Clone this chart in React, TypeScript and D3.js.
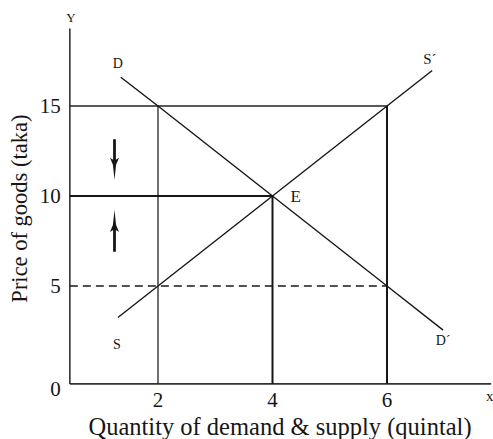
import React from "react";
import * as d3 from "d3";

const W = 493;
const H = 439;

// Data (quantity in quintal, price in taka)
const qTicks = [2, 4, 6];
const pTicks = [5, 10, 15];
const demandQ = [1.35, 2, 4, 6, 6.98];
const demandP = [16.6, 15, 10, 5, 2.55];
const supplyQ = [1.3, 2, 4, 6, 6.79];
const supplyP = [3.25, 5, 10, 15, 16.97];
const eqQ = 4;
const eqP = 10;
const highP = 15;
const lowP = 5;
const axisMinQ = 0.46;
const axisMaxQ = 7.82;
const axisMinP = -0.44;
const axisMaxP = 19.3;
// price-pressure arrows: [from, to] in taka
const arrowDown = [13.15, 10.9];
const arrowUp = [6.9, 9.22];

const FONT = "'Liberation Serif', 'Times New Roman', serif";
const INK = "#161616";

function arrowPath(xp: number, yFrom: number, yTo: number) {
  const dir = yTo > yFrom ? 1 : -1;
  const headLen = 20;
  const hw = 4.5;
  const sw = 1.4;
  const neck = yTo - dir * headLen;
  const barb = yTo - dir * (headLen - 5);
  return `M${xp - sw},${yFrom} L${xp + sw},${yFrom} L${xp + sw},${neck} L${xp + hw},${neck - dir * 2} L${xp + 1.6},${barb} L${xp},${yTo} L${xp - 1.6},${barb} L${xp - hw},${neck - dir * 2} L${xp - sw},${neck} Z`;
}

export default function App() {
  const x = d3.scaleLinear().domain([0, 8]).range([43.5, 43.5 + 8 * 57.25]);
  const y = d3.scaleLinear().domain([0, 20]).range([376, 16]);
  const line = d3
    .line<[number, number]>()
    .x((d) => x(d[0]))
    .y((d) => y(d[1]));

  const demand = demandQ.map((q, i) => [q, demandP[i]] as [number, number]);
  const supply = supplyQ.map((q, i) => [q, supplyP[i]] as [number, number]);

  const x0 = x(axisMinQ);
  const y0 = y(axisMinP);
  const arrowX = x(1.24);

  return (
    <svg
      width={W}
      height={H}
      style={{ position: "absolute", left: 0, top: 0, background: "#fff" }}
      fontFamily={FONT}
    >
      {/* axes */}
      <line x1={x0} x2={x0} y1={y(axisMaxP)} y2={y0} stroke="#333" strokeWidth={1.6} />
      <line x1={x0} x2={x(axisMaxQ)} y1={y0} y2={y0} stroke="#333" strokeWidth={1.6} />

      {/* guide lines */}
      <line x1={x0} x2={x(6)} y1={y(highP)} y2={y(highP)} stroke="#222" strokeWidth={1.3} />
      <line x1={x(2)} x2={x(2)} y1={y(highP)} y2={y0} stroke="#222" strokeWidth={1.3} />
      <line x1={x(6)} x2={x(6)} y1={y(highP)} y2={y0} stroke={INK} strokeWidth={2} />
      <line x1={x(eqQ)} x2={x(eqQ)} y1={y(eqP)} y2={y0} stroke={INK} strokeWidth={2} />
      <line x1={x0} x2={x(eqQ)} y1={y(eqP)} y2={y(eqP)} stroke={INK} strokeWidth={2} />
      <line x1={x0} x2={x(6)} y1={y(lowP)} y2={y(lowP)} stroke="#1a1a1a" strokeWidth={1.4} strokeDasharray="8,5" />

      {/* curves */}
      <path d={line(demand) || ""} fill="none" stroke={INK} strokeWidth={1.4} />
      <path d={line(supply) || ""} fill="none" stroke={INK} strokeWidth={1.4} />

      {/* arrows */}
      <path d={arrowPath(arrowX, y(arrowDown[0]), y(arrowDown[1]))} fill={INK} />
      <path d={arrowPath(arrowX, y(arrowUp[0]), y(arrowUp[1]))} fill={INK} />

      {/* tick labels */}
      {pTicks.map((p) => (
        <text key={p} x={x0 - 9} y={y(p) + 7} textAnchor="end" fontSize={21} fill={INK}>
          {p}
        </text>
      ))}
      <text x={x0 - 9} y={y0 + 12} textAnchor="end" fontSize={21} fill={INK}>0</text>
      {qTicks.map((q) => (
        <text key={q} x={x(q)} y={y0 + 23} textAnchor="middle" fontSize={21} fill={INK}>
          {q}
        </text>
      ))}

      {/* axis letters */}
      <text x={x0 + 1} y={22} textAnchor="middle" fontSize={13} fill={INK}>Y</text>
      <text x={486} y={401} textAnchor="start" fontSize={15} fill={INK}>x</text>

      {/* curve labels */}
      <text x={x(1.3)} y={y(16.6) - 9} textAnchor="middle" fontSize={14} fill={INK}>D</text>
      <text x={x(6.98)} y={y(2.55) + 15} textAnchor="middle" fontSize={14} fill={INK}>D´</text>
      <text x={x(1.28)} y={y(3.25) + 31} textAnchor="middle" fontSize={14} fill={INK}>S</text>
      <text x={x(6.75)} y={y(16.97) - 7} textAnchor="middle" fontSize={15} fill={INK}>S´</text>
      <text x={x(eqQ) + 18} y={y(eqP) + 6} textAnchor="start" fontSize={17} fill={INK}>E</text>

      {/* axis titles */}
      <text x={280} y={435} textAnchor="middle" fontSize={24.5} fill={INK}>
        Quantity of demand &amp; supply (quintal)
      </text>
      <text transform={`translate(27,${y(9.3)}) rotate(-90)`} textAnchor="middle" fontSize={22.5} fill={INK}>
        Price of goods (taka)
      </text>
    </svg>
  );
}
